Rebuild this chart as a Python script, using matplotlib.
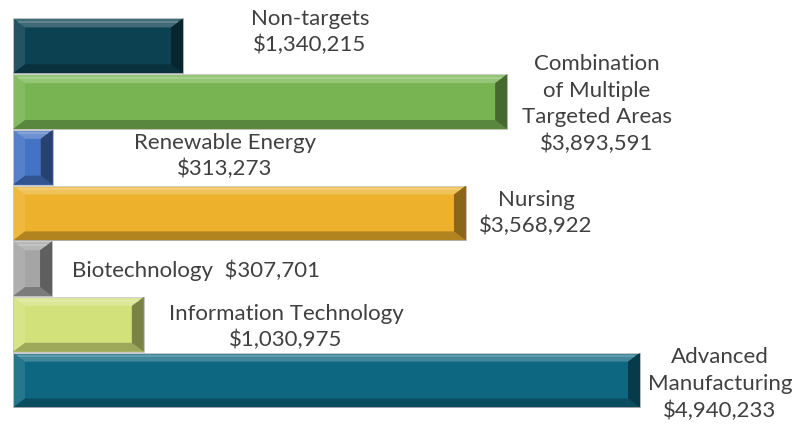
"""Grant dollars by target area -- horizontal bevelled bars with manual labels."""
import matplotlib
matplotlib.use("Agg")
import matplotlib.pyplot as plt
from matplotlib.patches import Polygon

categories = ["Non-targets", "Combination\nof Multiple\nTargeted Areas",
              "Renewable Energy", "Nursing", "Biotechnology",
              "Information Technology", "Advanced\nManufacturing"]
amounts = [1340215, 3893591, 313273, 3568922, 307701, 1030975, 4940233]
colors = ["#0c4152", "#78b552", "#4472c4", "#edb12c", "#a5a5a5",
          "#d3e17a", "#0e6781"]

# label block centres in pixels (x from left, y from top), as placed in the source
label_pos = [(310, 32), (597, 104), (225, 156), (536, 213), (196, 270),
             (286, 327), (720, 384)]

W, H = 806, 424
PX_PER_USD = 627 / 4940233
X0, Y0, BAND = 13, 18, 55.7
BEV_X, BEV_Y = 12, 9

fig = plt.figure(figsize=(W / 100, H / 100), dpi=100)
ax = fig.add_axes([0, 0, 1, 1])
ax.set_xlim(-X0 / PX_PER_USD, (W - X0) / PX_PER_USD)
ax.set_ylim(6.5 + (H - Y0 - 7 * BAND) / BAND, -0.5 - Y0 / BAND)
ax.axis("off")

bars = ax.barh(range(len(amounts)), amounts, height=0.985, color=colors,
               edgecolor="#bfbfbf", linewidth=0.6)

bx = BEV_X / PX_PER_USD
by = BEV_Y / BAND
for b in bars:
    x0, y0 = b.get_x(), b.get_y()
    x1, y1 = x0 + b.get_width(), y0 + b.get_height()
    ex = min(bx, b.get_width() / 2.5)
    # y axis inverted: y0 is the top edge on screen
    top = [(x0, y0), (x1, y0), (x1 - ex, y0 + by), (x0 + ex, y0 + by)]
    bot = [(x0, y1), (x1, y1), (x1 - ex, y1 - by), (x0 + ex, y1 - by)]
    left = [(x0, y0), (x0 + ex, y0 + by), (x0 + ex, y1 - by), (x0, y1)]
    right = [(x1, y0), (x1 - ex, y0 + by), (x1 - ex, y1 - by), (x1, y1)]
    for pts, c, a in [(top, "white", 0.22), (left, "white", 0.10),
                      (right, "black", 0.42), (bot, "black", 0.25)]:
        ax.add_patch(Polygon(pts, closed=True, facecolor=c, alpha=a,
                             edgecolor="none"))
    # thin highlight line along the upper bevel
    ax.plot([x0 + ex * 0.4, x1 - ex * 0.4], [y0 + by * 0.4] * 2,
            color="white", alpha=0.2, lw=1.2, solid_capstyle="butt")

for cat, amt, (px, py) in zip(categories, amounts, label_pos):
    if cat == "Biotechnology":
        txt = f"{cat}  ${amt:,}"
    else:
        txt = f"{cat}\n${amt:,}"
    fig.text(px / W, 1 - py / H, txt, ha="center", va="center",
             fontsize=16, family="Lato", color="#404040", linespacing=1.4)

plt.savefig("out.png", dpi=100)
plt.close()
